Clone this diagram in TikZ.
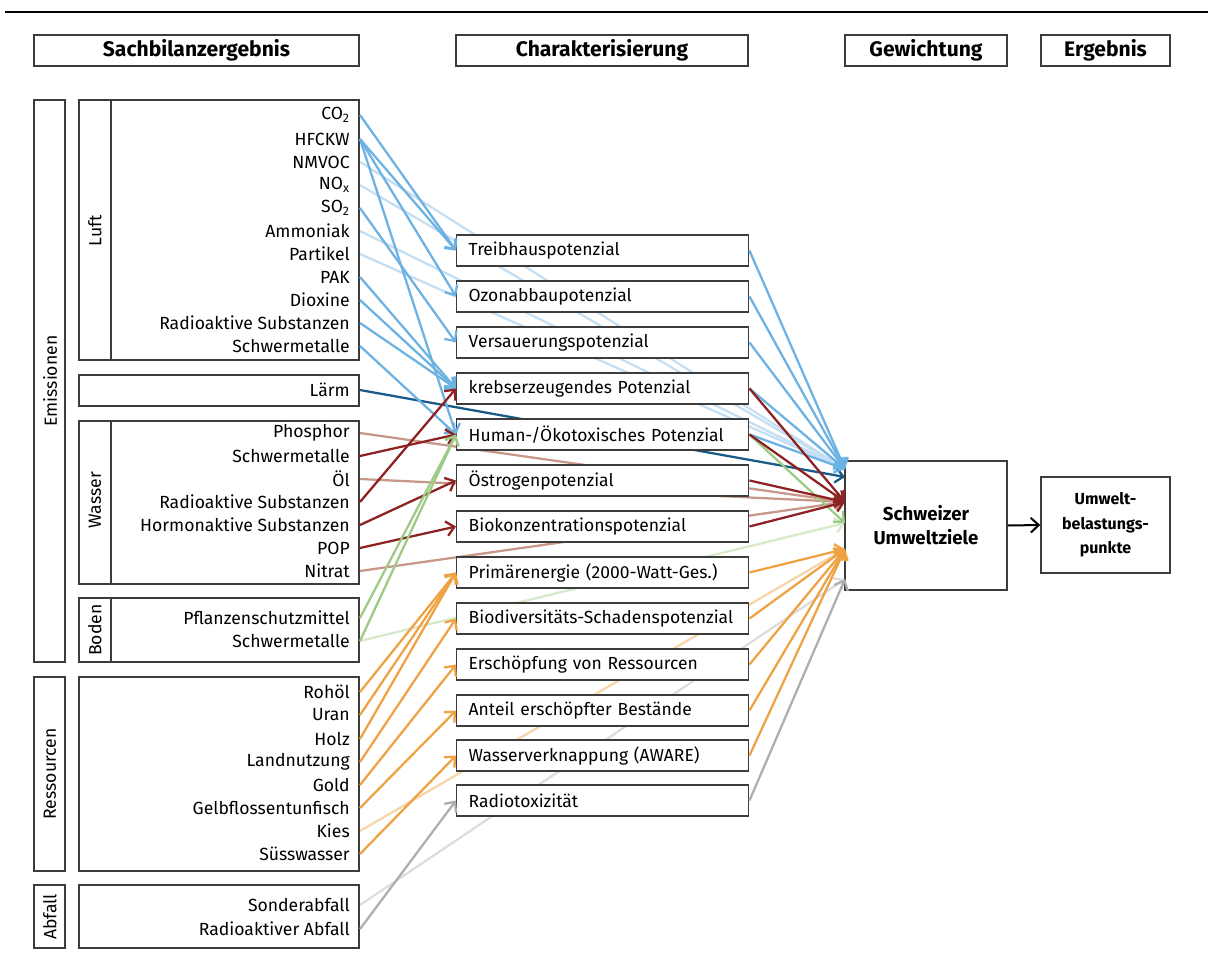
\documentclass[tikz,border=0pt]{standalone}
\usepackage{fontspec}
\setmainfont{Fira Sans}
\usetikzlibrary{arrows.meta,backgrounds}
\definecolor{cblue}{HTML}{6CB2E2}
\definecolor{lblue}{HTML}{C4DFF3}
\definecolor{dblue}{HTML}{1A5A88}
\definecolor{dred}{HTML}{8E2222}
\definecolor{lred}{HTML}{C9968A}
\definecolor{cgreen}{HTML}{9DCA84}
\definecolor{lgreen}{HTML}{D6E9CA}
\definecolor{corange}{HTML}{EEA243}
\definecolor{lorange}{HTML}{F8D5A8}
\definecolor{cgray}{HTML}{AEAEAE}
\definecolor{lgray}{HTML}{DDDDDD}
\definecolor{boxline}{HTML}{3C3C3C}
\tikzset{
  frame/.style={draw=boxline, line width=1.1pt},
  item/.style={anchor=east, inner xsep=7.5pt, inner ysep=1pt, font=\fontsize{13.2}{15}\selectfont},
  cat/.style={rotate=90, font=\fontsize{13.2}{15}\selectfont},
  head/.style={draw=boxline, line width=1.1pt, minimum height=23.25pt, inner sep=0pt, font=\bfseries\fontsize{15.8}{18}\selectfont},
  cbox/.style={draw=boxline, line width=1.1pt, fill=white, anchor=west, minimum height=23.25pt, text width=201pt, inner xsep=9pt, inner ysep=0pt, align=left, font=\fontsize{13.1}{15}\selectfont},
  wbox/.style={draw=boxline, line width=1.1pt, fill=white, align=center, inner sep=0pt},
  link/.style={line width=1.7pt, -{Straight Barb[length=6pt,width=11pt]}},
}
\begin{document}
\begin{tikzpicture}[x=0.75pt,y=-0.75pt]
\useasboundingbox (0,0) rectangle (1208,954);
\draw[line width=2.2pt] (5,12) -- (1208,12);
% headers
\node[head, minimum width=243.75pt] (h1) at (196.5,50.5) {Sachbilanzergebnis};
\node[head, minimum width=219pt] (h2) at (602,50.5) {Charakterisierung};
\node[head, minimum width=121.5pt] (h3) at (926,50.5) {Gewichtung};
\node[head, minimum width=96.75pt] (h4) at (1105.5,50.5) {Ergebnis};
% frames
\draw[frame] (34,100) rectangle (65,662);
\node[cat] (tEm) at (50,381) {Emissionen};
\draw[frame] (79,100) rectangle (359,360) (111,100) -- (111,360);
\node[cat] (tLu) at (95,231) {Luft};
\draw[frame] (79,375) rectangle (359,406);
\draw[frame] (79,421) rectangle (359,584) (111,421) -- (111,584);
\node[cat] (tWa) at (95,500) {Wasser};
\draw[frame] (79,598) rectangle (359,662) (111,598) -- (111,662);
\node[cat] (tBo) at (95,630) {Boden};
\draw[frame] (34,677) rectangle (65,871);
\node[cat] (tRe) at (50,774) {Ressourcen};
\draw[frame] (79,677) rectangle (359,871);
\draw[frame] (34,885) rectangle (65,948);
\node[cat] (tAb) at (50,917) {Abfall};
\draw[frame] (79,885) rectangle (359,948);
% items
\node[item] (lCO) at (360,115) {CO\textsubscript{2}};
\node[item] (lHF) at (360,139) {HFCKW};
\node[item] (lNM) at (360,162) {NMVOC};
\node[item] (lNO) at (360,185) {NO\textsubscript{x}};
\node[item] (lSO) at (360,208) {SO\textsubscript{2}};
\node[item] (lAM) at (360,231) {Ammoniak};
\node[item] (lPA) at (360,254) {Partikel};
\node[item] (lPK) at (360,277) {PAK};
\node[item] (lDI) at (360,300) {Dioxine};
\node[item] (lRA) at (360,323) {Radioaktive Substanzen};
\node[item] (lSM) at (360,346) {Schwermetalle};
\node[item] (lLA) at (360,390) {Lärm};
\node[item] (wPH) at (360,433) {Phosphor};
\node[item] (wSM) at (360,456) {Schwermetalle};
\node[item] (wOL) at (360,479) {Öl};
\node[item] (wRA) at (360,502) {Radioaktive Substanzen};
\node[item] (wHO) at (360,525) {Hormonaktive Substanzen};
\node[item] (wPO) at (360,548) {POP};
\node[item] (wNI) at (360,571) {Nitrat};
\node[item] (bPF) at (360,618) {Pflanzenschutzmittel};
\node[item] (bSM) at (360,641) {Schwermetalle};
\node[item] (rRO) at (360,692) {Rohöl};
\node[item] (rUR) at (360,715) {Uran};
\node[item] (rHO) at (360,739) {Holz};
\node[item] (rLA) at (360,762) {Landnutzung};
\node[item] (rGO) at (360,785) {Gold};
\node[item] (rGE) at (360,808) {Gelbflossentunfisch};
\node[item] (rKI) at (360,831) {Kies};
\node[item] (rSU) at (360,854) {Süsswasser};
\node[item] (aSO) at (360,905) {Sonderabfall};
\node[item] (aRA) at (360,929) {Radioaktiver Abfall};
% characterisation boxes
\node[cbox] (cT) at (456,250.5) {Treibhauspotenzial};
\node[cbox] (cO) at (456,296.5) {Ozonabbaupotenzial};
\node[cbox] (cV) at (456,342.5) {Versauerungspotenzial};
\node[cbox] (cK) at (456,388.5) {krebserzeugendes Potenzial};
\node[cbox] (cH) at (456,434.5) {Human-/Ökotoxisches Potenzial};
\node[cbox] (cOe) at (456,480.5) {Östrogenpotenzial};
\node[cbox] (cB) at (456,526.5) {Biokonzentrationspotenzial};
\node[cbox] (cP) at (456,572.5) {Primärenergie (2000-Watt-Ges.)};
\node[cbox] (cBi) at (456,618.5) {Biodiversitäts-Schadenspotenzial};
\node[cbox] (cE) at (456,664.5) {Erschöpfung von Ressourcen};
\node[cbox] (cA) at (456,710.5) {Anteil erschöpfter Bestände};
\node[cbox] (cW) at (456,755.5) {Wasserverknappung (AWARE)};
\node[cbox] (cR) at (456,800.5) {Radiotoxizität};
% weighting and result
\node[wbox, minimum width=121.5pt, minimum height=96.75pt, font=\bfseries\fontsize{14}{18}\selectfont] (S) at (926,525.5) {Schweizer\\Umweltziele};
\node[wbox, minimum width=96.75pt, minimum height=72pt, font=\bfseries\fontsize{12}{18.4}\selectfont] (U) at (1105.5,525) {Umwelt-\\belastungs-\\punkte};
\draw[line width=1.5pt, -{Straight Barb[length=6pt,width=11pt]}] (S.east) -- (U.west);
% entry points on S
\coordinate (eB) at (845,469);
\coordinate (eD) at (845,477);
\coordinate (eR) at (845,502);
\coordinate (eG) at (845,523);
\coordinate (eO) at (845,549);
\coordinate (eY) at (845,579);
% direct (light) lines under the boxes
\begin{scope}[on background layer]
\draw[link, lblue] (lNM.east) -- (eB);
\draw[link, lblue] (lNO.east) -- (eB);
\draw[link, lblue] (lAM.east) -- (eB);
\draw[link, lblue] (lPA.east) -- (eB);
\draw[link, lred] (wPH.east) -- (eR);
\draw[link, lred] (wOL.east) -- (eR);
\draw[link, lred] (wNI.east) -- (eR);
\draw[link, lgreen] (bSM.east) -- (eG);
\draw[link, lorange] (rKI.east) -- (eO);
\draw[link, lgray] (aSO.east) -- (eY);
\draw[link, dblue] (lLA.east) -- (eD);
\end{scope}
% air inputs
\draw[link, cblue] (lCO.east) -- (cT.west);
\draw[link, cblue] (lHF.east) -- (cT.west);
\draw[link, cblue] (lHF.east) -- (cO.west);
\draw[link, cblue] (lHF.east) -- (cH.west);
\draw[link, cblue] (lSO.east) -- (cV.west);
\draw[link, cblue] (lPK.east) -- (cK.west);
\draw[link, cblue] (lDI.east) -- (cK.west);
\draw[link, cblue] (lRA.east) -- (cK.west);
\draw[link, cblue] (lSM.east) -- (cH.west);
% water inputs
\draw[link, dred] (wSM.east) -- (cH.west);
\draw[link, dred] (wRA.east) -- (cK.west);
\draw[link, dred] (wHO.east) -- (cOe.west);
\draw[link, dred] (wPO.east) -- (cB.west);
% soil inputs
\draw[link, cgreen] (bPF.east) -- (cH.west);
\draw[link, cgreen] (bSM.east) -- (cH.west);
% resources
\draw[link, corange] (rRO.east) -- (cP.west);
\draw[link, corange] (rUR.east) -- (cP.west);
\draw[link, corange] (rHO.east) -- (cP.west);
\draw[link, corange] (rLA.east) -- (cBi.west);
\draw[link, corange] (rGO.east) -- (cE.west);
\draw[link, corange] (rGE.east) -- (cA.west);
\draw[link, corange] (rSU.east) -- (cW.west);
% waste
\draw[link, cgray] (aRA.east) -- (cR.west);
% outputs
\draw[link, cblue] (cT.east) -- (eB);
\draw[link, cblue] (cO.east) -- (eB);
\draw[link, cblue] (cV.east) -- (eB);
\draw[link, cblue] (cK.east) -- (eB);
\draw[link, cblue] (cH.east) -- (eB);
\draw[link, cgreen] (cH.east) -- (eG);
\draw[link, dred] (cK.east) -- (eR);
\draw[link, dred] (cH.east) -- (eR);
\draw[link, dred] (cOe.east) -- (eR);
\draw[link, dred] (cB.east) -- (eR);
\draw[link, corange] (cP.east) -- (eO);
\draw[link, corange] (cBi.east) -- (eO);
\draw[link, corange] (cE.east) -- (eO);
\draw[link, corange] (cA.east) -- (eO);
\draw[link, corange] (cW.east) -- (eO);
\draw[link, cgray] (cR.east) -- (eY);
\end{tikzpicture}
\end{document}
